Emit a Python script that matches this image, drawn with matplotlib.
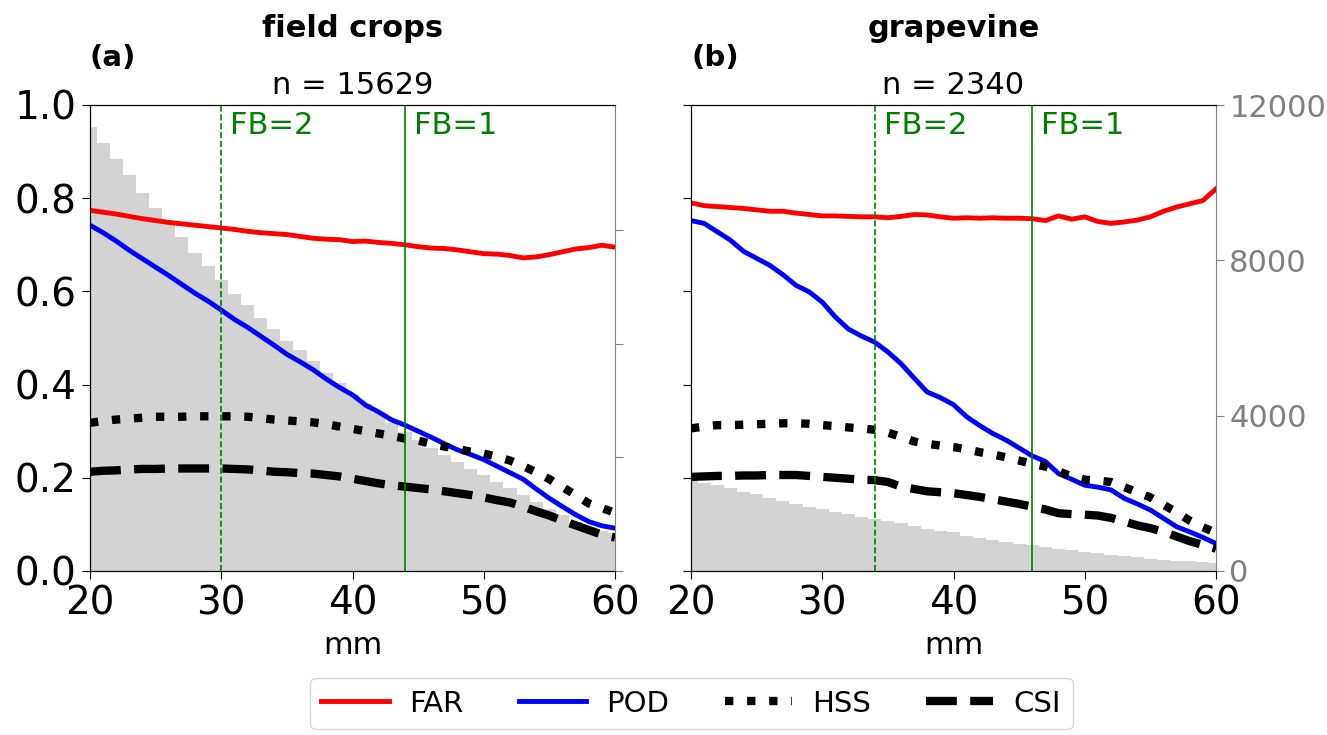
import matplotlib
matplotlib.use("Agg")
import matplotlib.pyplot as plt
import numpy as np
from matplotlib.lines import Line2D

mm = list(range(20, 61))

# ---- panel (a): field crops ----
far_a = [.774, .770, .766, .761, .756, .752, .748, .745, .742, .739, .736, .733, .729, .726, .724,
         .722, .718, .714, .712, .711, .707, .708, .705, .703, .700, .696, .693, .692, .689, .685,
         .681, .680, .677, .672, .674, .679, .685, .691, .694, .699, .695]
pod_a = [.742, .726, .708, .688, .670, .652, .634, .615, .596, .579, .560, .540, .523, .504, .485,
         .465, .449, .432, .412, .394, .378, .356, .341, .324, .313, .300, .287, .273, .260, .250,
         .239, .225, .211, .197, .176, .156, .138, .121, .106, .097, .092]
hss_a = [.318, .322, .325, .327, .329, .331, .331, .331, .332, .332, .332, .332, .331, .328, .325,
         .323, .321, .319, .315, .310, .305, .300, .295, .290, .284, .280, .273, .267, .262, .256,
         .252, .245, .237, .225, .212, .197, .180, .163, .145, .135, .125]
csi_a = [.213, .215, .216, .218, .219, .219, .220, .220, .220, .220, .220, .219, .218, .216, .213,
         .212, .210, .209, .206, .203, .198, .193, .188, .184, .181, .178, .175, .171, .167, .163,
         .158, .152, .147, .138, .128, .119, .108, .098, .088, .078, .072]
count_a = [15629, 15075, 14513, 13950, 13318, 12780, 12275, 11747, 11210, 10753, 10250, 9769, 9372,
           8915, 8529, 8117, 7766, 7390, 6982, 6617, 6244, 5893, 5552, 5201, 4895, 4603, 4322, 4076,
           3841, 3609, 3373, 3138, 2906, 2671, 2435, 2200, 1968, 1732, 1557, 1416, 1325]

# ---- panel (b): grapevine ----
far_b = [.790, .784, .782, .780, .778, .775, .772, .772, .768, .765, .762, .762, .761, .760, .760,
         .758, .761, .765, .764, .760, .757, .758, .757, .758, .757, .757, .756, .752, .762, .755,
         .760, .750, .746, .749, .753, .760, .772, .781, .788, .795, .820]
pod_b = [.752, .746, .728, .710, .686, .671, .656, .636, .613, .599, .577, .545, .519, .504, .491,
         .470, .445, .414, .384, .372, .357, .331, .312, .295, .281, .264, .247, .235, .209, .197,
         .184, .180, .174, .156, .144, .131, .113, .095, .084, .072, .059]
hss_b = [.306, .310, .313, .313, .314, .315, .316, .317, .317, .316, .313, .311, .308, .306, .303,
         .297, .288, .278, .273, .269, .266, .261, .255, .250, .244, .237, .230, .224, .214, .203,
         .196, .194, .191, .180, .169, .158, .142, .126, .108, .094, .082]
csi_b = [.202, .203, .204, .204, .205, .205, .206, .206, .206, .204, .202, .200, .198, .196, .195,
         .191, .181, .176, .171, .169, .167, .163, .159, .154, .149, .144, .138, .132, .124, .122,
         .121, .119, .114, .106, .098, .092, .084, .074, .064, .056, .048]
count_b = [2340, 2258, 2206, 2129, 2026, 1974, 1888, 1811, 1725, 1657, 1588, 1528, 1468, 1399, 1330,
           1279, 1227, 1159, 1082, 1030, 996, 910, 850, 800, 750, 705, 665, 620, 570, 530, 490, 455,
           420, 385, 355, 320, 295, 270, 245, 230, 215]

titles = ["field crops", "grapevine"]
letters = ["(a)", "(b)"]
n_labels = ["n = 15629", "n = 2340"]
fb2 = [30, 34]
fb1 = [44, 46]
x_ticks = [20, 30, 40, 50, 60]
y_ticks = [0.0, 0.2, 0.4, 0.6, 0.8, 1.0]
count_ticks = [0, 4000, 8000, 12000]

fig = plt.figure(figsize=(13.27, 7.35), dpi=100)
W, H = 1327, 735
rects = [[90 / W, 164 / H, 525 / W, 466 / H], [691 / W, 164 / H, 525 / W, 466 / H]]

data = [(far_a, pod_a, hss_a, csi_a, count_a), (far_b, pod_b, hss_b, csi_b, count_b)]

for i in range(2):
    far, pod, hss, csi, cnt = data[i]
    ax = fig.add_axes(rects[i])
    ax2 = ax.twinx()
    ax2.bar(mm, cnt, width=1.0, color="lightgrey", align="center")
    if i == 1:
        ax2.set_ylim(0, 12000)
    ax2.set_yticks(count_ticks)
    ax2.tick_params(axis="y", colors="grey", labelsize=22, length=6)
    if i == 0:
        ax2.set_yticklabels([])
    ax2.spines["right"].set_color("grey")
    ax.set_zorder(ax2.get_zorder() + 1)
    ax.patch.set_visible(False)
    ax.spines["right"].set_visible(False)

    ax.plot(mm, far, color="red", lw=3.5)
    ax.plot(mm, pod, color="blue", lw=3.5)
    ax.plot(mm, hss, color="black", lw=6, linestyle=":")
    ax.plot(mm, csi, color="black", lw=6, linestyle="--")
    ax.axvline(fb2[i], color="green", lw=1.2, linestyle="--")
    ax.axvline(fb1[i], color="green", lw=1.2)
    ax.text(fb2[i] + 0.7, 0.955, "FB=2", color="green", fontsize=22, va="center", ha="left")
    ax.text(fb1[i] + 0.7, 0.955, "FB=1", color="green", fontsize=22, va="center", ha="left")

    ax.set_xlim(20, 60)
    ax.set_ylim(0, 1)
    ax.set_xticks(x_ticks)
    ax.set_yticks(y_ticks)
    ax.tick_params(axis="both", labelsize=28, length=6)
    if i == 1:
        ax.set_yticklabels([])
    ax.set_xlabel("mm", fontsize=22, labelpad=6)
    ax.set_title(n_labels[i], fontsize=22, pad=8)
    ax.text(0.0, 1.1, letters[i], transform=ax.transAxes, fontsize=21, fontweight="bold",
            ha="left", va="center")
    ax.text(0.5, 1.165, titles[i], transform=ax.transAxes, fontsize=22, fontweight="bold",
            ha="center", va="center")

handles = [Line2D([], [], color="red", lw=3.5),
           Line2D([], [], color="blue", lw=3.5),
           Line2D([], [], color="black", lw=6, linestyle=":"),
           Line2D([], [], color="black", lw=6, linestyle="--")]
labels = ["FAR", "POD", "HSS", "CSI"]
fig.legend(handles, labels, loc="lower center", bbox_to_anchor=(0.521, -0.012), ncol=4,
           fontsize=21, handlelength=2.3, handletextpad=0.7, columnspacing=1.9, frameon=True)

fig.savefig("out.png", dpi=100)
